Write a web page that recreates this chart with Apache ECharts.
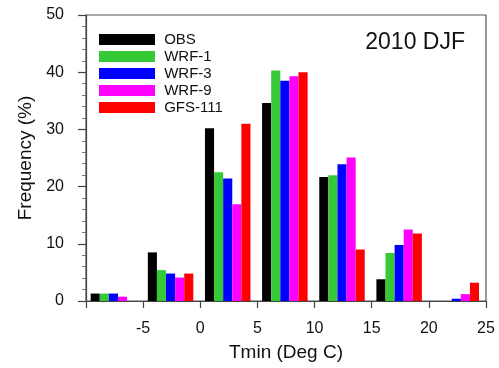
<!DOCTYPE html>
<html style="height: 100%">

<head>
    <meta charset="UTF-8" />
    <script type="text/javascript" src="https://cdn.jsdelivr.net/npm/echarts@6/dist/echarts.min.js"></script>
</head>

<body style="height: 100%; margin: 0; background: #fff">
    <div id="container" style="width: 499px; height: 368px"></div>
    <script>
        // bin start values (Deg C), each bin is 5 degrees wide
        var binStarts = [-10, -5, 0, 5, 10, 15, 20];
        var xTickLabels = [-5, 0, 5, 10, 15, 20, 25];
        var seriesNames = ['OBS', 'WRF-1', 'WRF-3', 'WRF-9', 'GFS-111'];
        var obs = [1.3, 8.5, 30.2, 34.6, 21.7, 3.8, 0];
        var wrf1 = [1.3, 5.4, 22.5, 40.3, 22.0, 8.4, 0];
        var wrf3 = [1.3, 4.8, 21.4, 38.5, 23.9, 9.8, 0.4];
        var wrf9 = [0.75, 4.1, 16.9, 39.3, 25.1, 12.5, 1.2];
        var gfs111 = [0, 4.8, 31.0, 40.0, 9.0, 11.8, 3.2];
        var colors = ['#000000', '#36c936', '#0000ff', '#ff00ff', '#ff0000'];

        var values = [obs, wrf1, wrf3, wrf9, gfs111];
        var font = 'Liberation Sans, Arial, sans-serif';

        var dom = document.getElementById("container");
        var chart = echarts.init(dom);

        var series = values.map(function (vals, i) {
            return {
                name: seriesNames[i],
                type: 'bar',
                barWidth: 9.1,
                barGap: '0%',
                itemStyle: { color: colors[i] },
                data: vals.map(function (v, j) {
                    return [binStarts[j] + 2.4, v];
                })
            };
        });

        chart.setOption({
            animation: false,
            textStyle: { fontFamily: font },
            grid: {
                left: 86, right: 13, top: 15, bottom: 67,
                show: true, borderColor: '#555', borderWidth: 1.2
            },
            title: {
                text: '2010 DJF',
                right: 29, top: 26,
                textStyle: { fontSize: 23, fontWeight: 'normal', color: '#111', fontFamily: font }
            },
            legend: {
                orient: 'vertical',
                left: 94, top: 27,
                itemWidth: 56, itemHeight: 11, itemGap: 2,
                icon: 'rect',
                formatter: function (name) { return ' ' + name; },
                textStyle: { fontSize: 15, color: '#111', fontFamily: font }
            },
            xAxis: {
                type: 'value',
                min: -10, max: 25, interval: 5,
                name: 'Tmin (Deg C)',
                nameLocation: 'middle',
                nameGap: 42,
                nameTextStyle: { fontSize: 19, color: '#111' },
                axisLine: { onZero: false, lineStyle: { color: '#444', width: 1.2 } },
                axisTick: { length: 7, lineStyle: { color: '#444', width: 1.2 } },
                axisLabel: {
                    fontSize: 16, color: '#111', margin: 20,
                    formatter: function (v) {
                        return xTickLabels.indexOf(v) >= 0 ? String(v) : '';
                    }
                },
                splitLine: { show: false }
            },
            yAxis: {
                type: 'value',
                min: 0, max: 50, interval: 10,
                name: 'Frequency (%)',
                nameLocation: 'middle',
                nameGap: 50,
                nameTextStyle: { fontSize: 19, color: '#111' },
                axisLine: { show: true, onZero: false, lineStyle: { color: '#444', width: 1.2 } },
                axisTick: { show: true, length: 8, lineStyle: { color: '#444', width: 1.2 } },
                minorTick: { show: true, splitNumber: 5, length: 4, lineStyle: { color: '#777' } },
                axisLabel: { fontSize: 16, color: '#111', margin: 22 },
                splitLine: { show: false }
            },
            series: series
        });
    </script>
</body>

</html>
